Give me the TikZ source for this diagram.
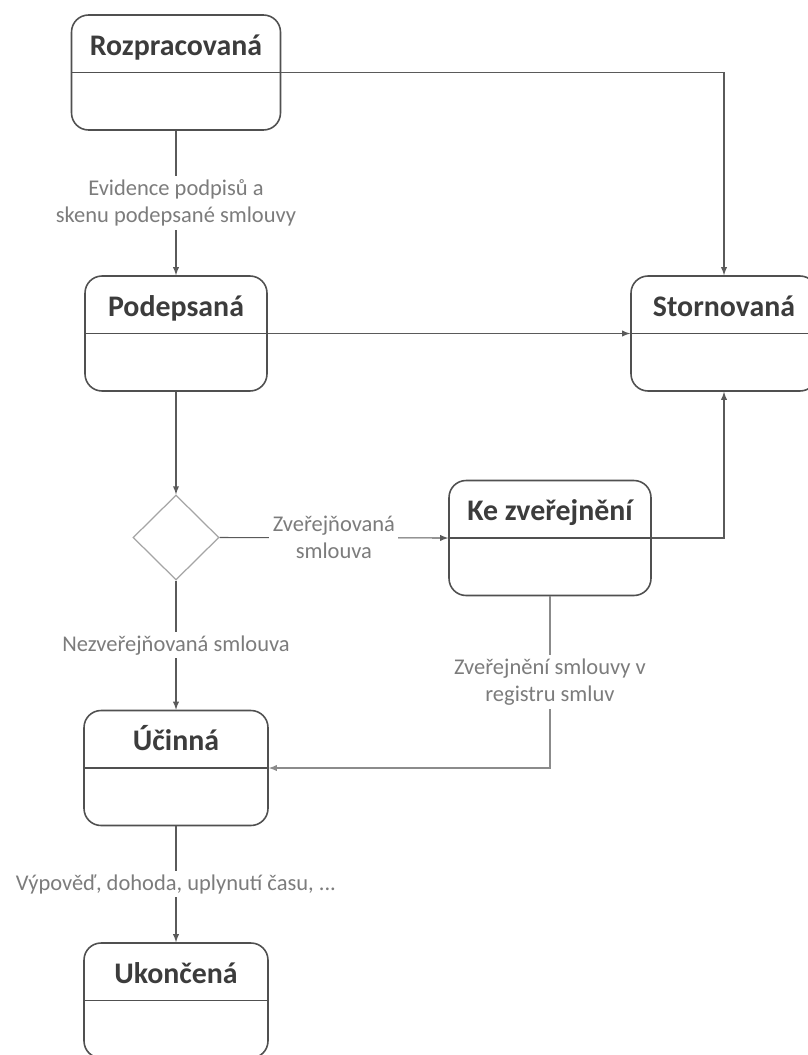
\documentclass[tikz,border=0pt]{standalone}
\usepackage{fontspec}
\setmainfont{Carlito}
\usetikzlibrary{arrows,positioning,calc,shapes}
\usepackage{xcolor}
\definecolor{ramecek}{HTML}{505050}
\definecolor{sipka}{HTML}{5A5A5A}
\definecolor{popis}{HTML}{7C7C7C}
\definecolor{nadpis}{HTML}{3C3C3C}
\definecolor{kosoctverec}{HTML}{A5A5A5}
\tikzset{
  stav/.style={draw=ramecek, line width=0.9pt, rounded corners=0.34cm, inner xsep=0pt, inner ysep=0pt,
    text height=0.8cm, text depth=1.5cm, text=nadpis, font=\fontsize{17}{20}\selectfont\bfseries,
    path picture={\draw[ramecek, line width=0.9pt] (path picture bounding box.west) -- (path picture bounding box.east);}},
  popisek/.style={fill=white, text=popis, align=center, font=\fontsize{12.8}{15.3}\selectfont, inner sep=2pt},
  prechod/.style={->, draw=sipka, line width=0.6pt}
}
\begin{document}
\begin{tikzpicture}[x=0.02cm, y=-0.02cm, >=latex]
    \path[use as bounding box, fill=white] (0,0) rectangle (808,1055);
    \node[stav, minimum width=4.18cm] (rozpracovana) at (176,72.5) {Rozpracovaná};
    \node[stav, minimum width=3.64cm] (podepsana) at (176,333.5) {Podepsaná};
    \node[stav, minimum width=3.72cm] (stornovana) at (724,333.5) {Stornovaná};
    \node[diamond, draw=kosoctverec, line width=0.7pt, minimum width=1.72cm, minimum height=1.7cm, inner sep=0pt] (rozhodnuti) at (176,537.5) {};
    \node[stav, minimum width=4.04cm] (kezverejneni) at (550,538) {Ke zveřejnění};
    \node[stav, minimum width=3.68cm] (ucinna) at (176,768) {Účinná};
    \node[stav, minimum width=3.68cm] (ukoncena) at (176,1000.5) {Ukončená};
    \draw[prechod] (rozpracovana) -- node[popisek] {Evidence podpisů a\\skenu podepsané smlouvy} (podepsana);
    \draw[prechod] (rozpracovana.east) -| (stornovana.north);
    \draw[prechod] (podepsana.east) -- (stornovana.west);
    \draw[prechod] (podepsana) -- (rozhodnuti);
    \draw[prechod] (rozhodnuti.east) -- node[popisek] {Zveřejňovaná\\smlouva} (kezverejneni.west);
    \draw[prechod] (kezverejneni.east) -| (stornovana.south);
    \draw[prechod] (rozhodnuti.south) -- node[popisek] {Nezveřejňovaná smlouva} (ucinna.north);
    \draw[prechod, draw=sipka!70] (kezverejneni.south) |- node[popisek, pos=0.25] {Zveřejnění smlouvy v\\registru smluv} (ucinna.east);
    \draw[prechod] (ucinna) -- node[popisek] {Výpověď, dohoda, uplynutí času, ...} (ukoncena);
\end{tikzpicture}
\end{document}
